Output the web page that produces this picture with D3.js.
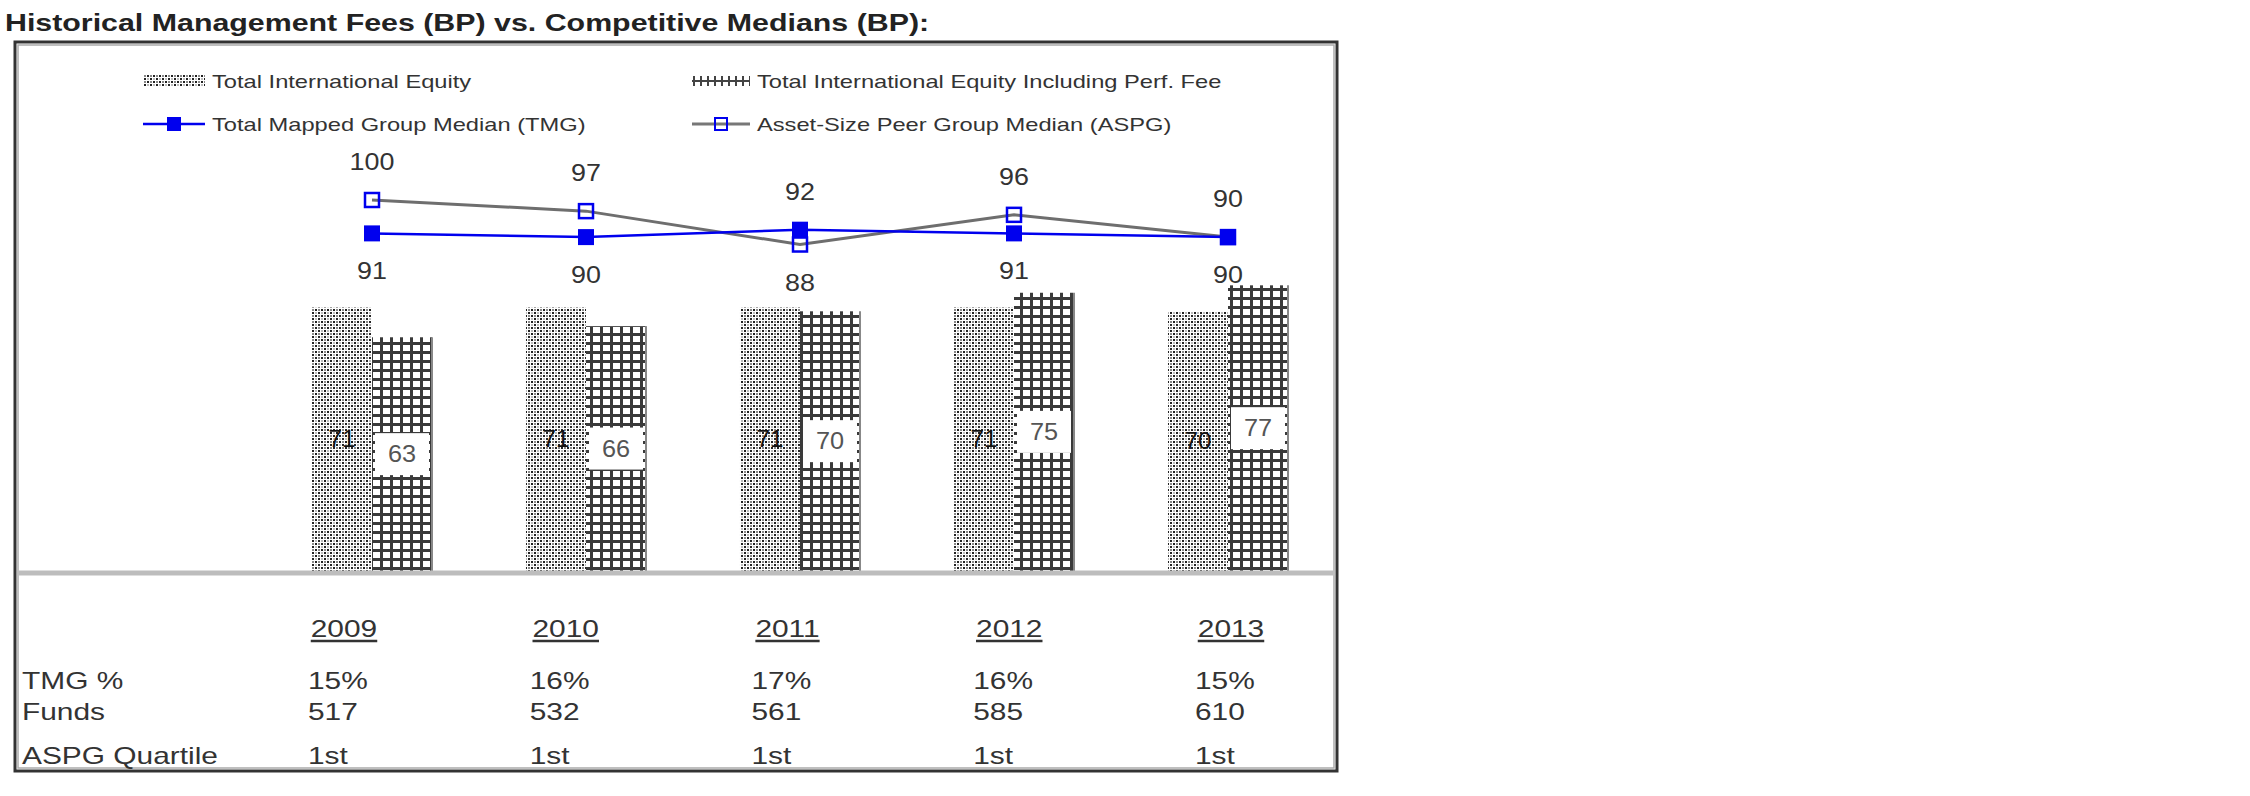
<!DOCTYPE html>
<html><head><meta charset="utf-8">
<script src="https://cdn.jsdelivr.net/npm/d3@7"></script>
<style>
html,body{margin:0;padding:0;background:#fff;}
svg{display:block;}
text{font-family:"Liberation Sans",Arial,Helvetica,sans-serif;}
</style>
</head><body>
<svg id="chart" width="2250" height="796"></svg>
<script>
// ---------- data ----------
const title = 'Historical Management Fees (BP) vs. Competitive Medians (BP):';
const years = ['2009', '2010', '2011', '2012', '2013'];
const totalIntlEquity = [71, 71, 71, 71, 70];
const totalIntlEquityPerf = [63, 66, 70, 75, 77];
const tmgMedian = [91, 90, 92, 91, 90];
const aspgMedian = [100, 97, 88, 96, 90];
const tmgPct = ['15%', '16%', '17%', '16%', '15%'];
const funds = ['517', '532', '561', '585', '610'];
const aspgQuartile = ['1st', '1st', '1st', '1st', '1st'];
const rowLabels = ['TMG %', 'Funds', 'ASPG Quartile'];
const barSeries = ['Total International Equity', 'Total International Equity Including Perf. Fee'];
const lineSeries = ['Total Mapped Group Median (TMG)', 'Asset-Size Peer Group Median (ASPG)'];

// ---------- setup ----------
const svg = d3.select('#chart');
svg.append('rect').attr('width', 2250).attr('height', 796).attr('fill', '#fff');
const FONT_SX = 1.3;

function txt(parent, x, y, s, o = {}) {
  const sx = o.sx ?? FONT_SX;
  return parent.append('text')
    .attr('transform', `translate(${x},${y}) scale(${sx},1)`)
    .attr('text-anchor', o.anchor || 'start')
    .attr('font-size', o.size || 20)
    .attr('font-weight', o.weight || 'normal')
    .attr('fill', o.fill || '#333')
    .text(s);
}

// patterns
const defs = svg.append('defs');
const dots = defs.append('pattern').attr('id', 'dots').attr('patternUnits', 'userSpaceOnUse')
  .attr('width', 6).attr('height', 6);
dots.append('rect').attr('width', 6).attr('height', 6).attr('fill', '#fff');
[[0, 0, '#222'], [3, 3, '#222'], [3, 0, '#bbb'], [0, 3, '#888']].forEach(([a, b, c]) =>
  dots.append('rect').attr('x', a).attr('y', b).attr('width', 2).attr('height', 2).attr('fill', c));

const grid = defs.append('pattern').attr('id', 'grid').attr('patternUnits', 'userSpaceOnUse')
  .attr('width', 10).attr('height', 9);
grid.append('rect').attr('width', 10).attr('height', 9).attr('fill', '#fff');
grid.append('rect').attr('x', 0).attr('y', 0).attr('width', 3).attr('height', 9).attr('fill', '#3a3a3a');
grid.append('rect').attr('x', 0).attr('y', 0).attr('width', 10).attr('height', 3).attr('fill', '#3a3a3a');

const gridS = defs.append('pattern').attr('id', 'gridS').attr('patternUnits', 'userSpaceOnUse')
  .attr('width', 7).attr('height', 6);
gridS.append('rect').attr('width', 7).attr('height', 6).attr('fill', '#fff');
gridS.append('rect').attr('x', 0).attr('y', 0).attr('width', 2).attr('height', 6).attr('fill', '#444');
gridS.append('rect').attr('x', 0).attr('y', 2).attr('width', 7).attr('height', 2).attr('fill', '#444');

// ---------- title ----------
txt(svg, 5, 31, title, { size: 23, weight: 'bold', fill: '#222', sx: 1.32 });

// ---------- frame ----------
svg.append('rect').attr('x', 15).attr('y', 42).attr('width', 1322).attr('height', 729)
  .attr('fill', 'none').attr('stroke', '#333').attr('stroke-width', 3);
svg.append('rect').attr('x', 18).attr('y', 45).attr('width', 1316).attr('height', 723)
  .attr('fill', 'none').attr('stroke', '#aaa').attr('stroke-width', 1.5);

// ---------- scales ----------
const x0 = d3.scaleBand().domain(years).range([265, 1335]).padding(0);
const x1 = d3.scaleBand().domain(barSeries).range([0, x0.bandwidth()]).paddingInner(0).paddingOuter(0.783);
const y = d3.scaleLinear().domain([0, 100]).range([571, 200]);
const cx = yr => x0(yr) + x0.bandwidth() / 2;
const tableX = d3.scalePoint().domain(years).range([344, 1231]);

// ---------- legend ----------
const lg = svg.append('g');
const legX = [143, 692], legW = [62, 58], legTx = [212, 757], legY = [81, 124];
lg.append('rect').attr('x', legX[0]).attr('y', legY[0] - 6).attr('width', legW[0]).attr('height', 12).attr('fill', 'url(#dots)');
lg.append('rect').attr('x', legX[1]).attr('y', legY[0] - 5).attr('width', legW[1]).attr('height', 10).attr('fill', 'url(#gridS)');
txt(lg, legTx[0], legY[0] + 7, barSeries[0], { size: 18.5, sx: 1.28 });
txt(lg, legTx[1], legY[0] + 7, barSeries[1], { size: 18.5, sx: 1.28 });
// line legend
lg.append('line').attr('x1', legX[0]).attr('x2', legX[0] + legW[0]).attr('y1', legY[1]).attr('y2', legY[1])
  .attr('stroke', '#0000ee').attr('stroke-width', 2.5);
lg.append('rect').attr('x', legX[0] + legW[0] / 2 - 7).attr('y', legY[1] - 7).attr('width', 14).attr('height', 14).attr('fill', '#0000ee');
lg.append('line').attr('x1', legX[1]).attr('x2', legX[1] + legW[1]).attr('y1', legY[1]).attr('y2', legY[1])
  .attr('stroke', '#777').attr('stroke-width', 3);
lg.append('rect').attr('x', 721 - 6).attr('y', legY[1] - 6).attr('width', 12).attr('height', 12)
  .attr('fill', 'none').attr('stroke', '#0000ee').attr('stroke-width', 2);
txt(lg, legTx[0], legY[1] + 7, lineSeries[0], { size: 18.5, sx: 1.28 });
txt(lg, legTx[1], legY[1] + 7, lineSeries[1], { size: 18.5, sx: 1.28 });

// ---------- bars ----------
const barData = years.map((yr, i) => ({ yr, vals: [totalIntlEquity[i], totalIntlEquityPerf[i]] }));
const bg = svg.append('g');
barData.forEach(d => {
  d.vals.forEach((v, k) => {
    const bx = x0(d.yr) + x1(barSeries[k]);
    bg.append('rect').attr('x', bx).attr('y', y(v)).attr('width', x1.bandwidth()).attr('height', y(0) - y(v))
      .attr('fill', k === 0 ? 'url(#dots)' : 'url(#grid)');
    if (k === 1) {
      bg.append('line').attr('x1', bx + x1.bandwidth()).attr('x2', bx + x1.bandwidth())
        .attr('y1', y(v)).attr('y2', y(0)).attr('stroke', '#888').attr('stroke-width', 2);
    }
  });
});
// baseline
svg.append('line').attr('x1', 17).attr('x2', 1333).attr('y1', y(0) + 2).attr('y2', y(0) + 2)
  .attr('stroke', '#bdbdbd').attr('stroke-width', 5);

// bar labels
barData.forEach(d => {
  d.vals.forEach((v, k) => {
    const bx = x0(d.yr) + x1(barSeries[k]) + x1.bandwidth() / 2;
    const my = (y(v) + y(0)) / 2;
    if (k === 1) {
      bg.append('rect').attr('x', bx - 27).attr('y', my - 21).attr('width', 54).attr('height', 42).attr('fill', '#fff');
      txt(svg, bx, my + 8, v, { size: 23, sx: 1.1, anchor: 'middle', fill: '#555' });
    } else {
      txt(svg, bx, my + 8, v, { size: 23, sx: 1.05, anchor: 'middle', fill: '#111' });
    }
  });
});

// ---------- lines ----------
const line = d3.line().x((d, i) => cx(years[i])).y(d => y(d));
svg.append('path').datum(aspgMedian).attr('d', line).attr('fill', 'none').attr('stroke', '#6e6e6e').attr('stroke-width', 3);
svg.append('g').selectAll('rect').data(aspgMedian).join('rect')
  .attr('x', (d, i) => cx(years[i]) - 7).attr('y', d => y(d) - 7).attr('width', 14).attr('height', 14)
  .attr('fill', 'none').attr('stroke', '#0000ee').attr('stroke-width', 2.5);
svg.append('path').datum(tmgMedian).attr('d', line).attr('fill', 'none').attr('stroke', '#0000ee').attr('stroke-width', 2.5);
svg.append('g').selectAll('rect').data(tmgMedian).join('rect')
  .attr('x', (d, i) => cx(years[i]) - 8).attr('y', d => y(d) - 8).attr('width', 16).attr('height', 16)
  .attr('fill', '#0000ee');

// line labels: higher value above, lower value below
years.forEach((yr, i) => {
  const a = aspgMedian[i], t = tmgMedian[i];
  const upper = a >= t ? a : t, lower = a >= t ? t : a;
  txt(svg, cx(yr), y(upper) - 30, upper, { size: 24, sx: 1.12, anchor: 'middle', fill: '#333' });
  txt(svg, cx(yr), y(lower) + 46, lower, { size: 24, sx: 1.12, anchor: 'middle', fill: '#333' });
});

// ---------- table ----------
const tg = svg.append('g');
years.forEach(yr => {
  const t = txt(tg, tableX(yr), 637, yr, { size: 23, anchor: 'middle', fill: '#333' });
  const w = t.node().getComputedTextLength() * FONT_SX;
  tg.append('line').attr('x1', tableX(yr) - w / 2).attr('x2', tableX(yr) + w / 2)
    .attr('y1', 641).attr('y2', 641).attr('stroke', '#333').attr('stroke-width', 2.5);
});
const rowsY = [689, 720, 764];
const rows = [tmgPct, funds, aspgQuartile];
rowLabels.forEach((lab, r) => txt(tg, 22, rowsY[r], lab, { size: 23, fill: '#333' }));
rows.forEach((vals, r) => {
  vals.forEach((v, i) => {
    const yr = years[i];
    txt(tg, tableX(yr) - 36, rowsY[r], v, { size: 23, fill: '#333' });
  });
});
</script>
</body></html>
